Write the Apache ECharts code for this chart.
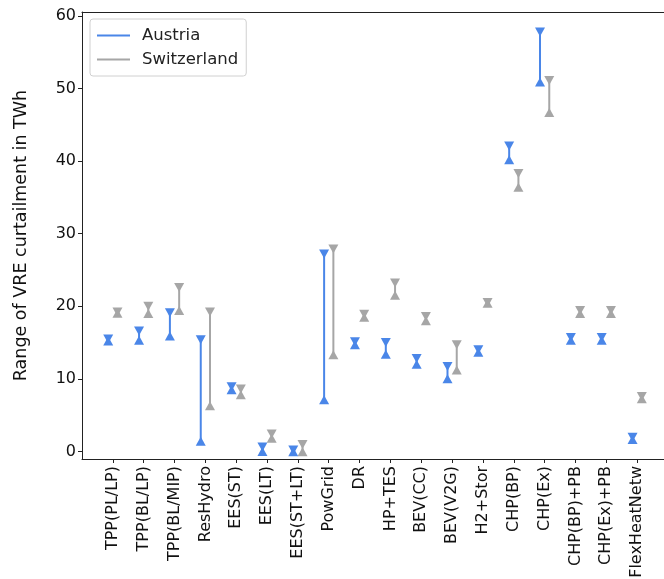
<!DOCTYPE html>
<html>
<head>
<meta charset="utf-8">
<script src="https://cdn.jsdelivr.net/npm/echarts@6/dist/echarts.min.js"></script>
<style>html,body{margin:0;padding:0;background:#fff}#c{width:664px;height:579px}</style>
</head>
<body>
<div id="c"></div>
<script>
const categories = ['TPP(PL/LP)','TPP(BL/LP)','TPP(BL/MIP)','ResHydro','EES(ST)','EES(LT)','EES(ST+LT)','PowGrid','DR','HP+TES','BEV(CC)','BEV(V2G)','H2+Stor','CHP(BP)','CHP(Ex)','CHP(BP)+PB','CHP(Ex)+PB','FlexHeatNetw'];
const austriaMax = [15.5,16.6,19.1,15.4,8.9,0.6,0.2,27.2,15.1,15.0,12.8,11.7,14.0,42.1,57.8,15.7,15.7,1.95];
const austriaMin = [15.2,15.3,15.9,1.4,8.5,0.0,-0.05,7.1,14.7,13.4,12.0,10.0,13.65,40.2,50.9,15.3,15.3,1.65];
const swissMax = [19.2,20.0,22.6,19.2,8.6,2.4,0.95,27.9,18.9,23.2,18.6,14.7,20.5,38.3,51.1,19.4,19.4,7.55];
const swissMin = [19.05,19.0,19.4,6.3,7.8,1.8,-0.05,13.3,18.5,21.5,18.0,11.2,20.4,36.4,46.7,19.0,19.0,7.25];
const yTicks = [0,10,20,30,40,50,60];

const BLUE = '#4a86e8', GRAY = '#a6a6a6';
const OFF = 0.15;
const idx = categories.map((_, i) => i);

function rangeData(mn, mx, off) { return categories.map((_, i) => [i + off, mn[i], mx[i]]); }
function pts(arr, off) { return categories.map((_, i) => [i + off, arr[i]]); }

function rangeSeries(name, color, mn, mx, off) {
  return {
    name: name, type: 'custom', itemStyle: {color: color},
    data: rangeData(mn, mx, off),
    encode: {x: 0, y: [1, 2]},
    renderItem: function (params, api) {
      const p1 = api.coord([api.value(0), api.value(1)]);
      const p2 = api.coord([api.value(0), api.value(2)]);
      return {type: 'line', shape: {x1: p1[0], y1: p1[1], x2: p2[0], y2: p2[1]},
        style: {stroke: color, lineWidth: 2}};
    },
    z: 2
  };
}
function markSeries(color, arr, off, down) {
  return {
    type: 'scatter', symbol: 'triangle', symbolSize: [10, 9], symbolRotate: down ? 180 : 0,
    itemStyle: {color: color, opacity: 1}, data: pts(arr, off), z: 3, silent: true
  };
}

const chart = echarts.init(document.getElementById('c'), null, {renderer: 'canvas'});
chart.setOption({
  animation: false,
  textStyle: {fontFamily: 'DejaVu Sans'},
  grid: {left: 82, right: 0, top: 12, bottom: 120, containLabel: false, outerBoundsMode: 'none'},
  legend: {
    data: ['Austria', 'Switzerland'], orient: 'vertical', left: 90, top: 19,
    icon: 'rect', itemWidth: 33, itemHeight: 2, itemGap: 7,
    padding: [8, 8, 8, 7], borderColor: '#d0d0d0', borderWidth: 1, borderRadius: 3,
    backgroundColor: '#fff',
    textStyle: {fontSize: 16.5, color: '#222', fontFamily: 'DejaVu Sans', padding: [0, 0, 0, 7]}
  },
  xAxis: [{
    type: 'value', min: -1, max: 17.87, interval: 1,
    axisLine: {show: true, onZero: false, lineStyle: {color: '#222', width: 1}},
    axisTick: {show: true, length: 4, lineStyle: {color: '#222'}, customValues: idx},
    axisLabel: {show: true, rotate: 90, fontSize: 16, color: '#111', margin: 7,
      customValues: idx, formatter: v => categories[Math.round(v)] || ''},
    splitLine: {show: false}
  }, {
    type: 'value', position: 'top', min: -1, max: 17.87,
    axisLine: {show: true, onZero: false, lineStyle: {color: '#222', width: 1}},
    axisTick: {show: false}, axisLabel: {show: false}, splitLine: {show: false}
  }],
  yAxis: {
    type: 'value', min: -1.05, max: 60.55,
    name: 'Range of VRE curtailment in TWh', nameLocation: 'middle', nameGap: 52,
    nameTextStyle: {fontSize: 17.5, color: '#111', fontFamily: 'DejaVu Sans'},
    axisLine: {show: true, onZero: false, lineStyle: {color: '#222', width: 1}},
    axisTick: {show: true, length: 4, lineStyle: {color: '#222'}, customValues: yTicks},
    axisLabel: {fontSize: 16, color: '#111', margin: 6, customValues: yTicks},
    splitLine: {show: false}
  },
  series: [
    rangeSeries('Austria', BLUE, austriaMin, austriaMax, -OFF),
    rangeSeries('Switzerland', GRAY, swissMin, swissMax, OFF),
    markSeries(BLUE, austriaMin, -OFF, false),
    markSeries(BLUE, austriaMax, -OFF, true),
    markSeries(GRAY, swissMin, OFF, false),
    markSeries(GRAY, swissMax, OFF, true)
  ]
});
</script>
</body>
</html>
